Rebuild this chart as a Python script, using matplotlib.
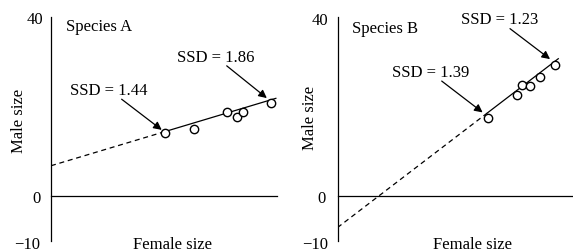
import matplotlib
matplotlib.use("Agg")
import matplotlib.pyplot as plt
import numpy as np

plt.rcParams['font.family'] = ['Liberation Serif', 'DejaVu Serif']
plt.rcParams['font.size'] = 12

# Data (arbitrary female-size units 0..40)
a_female = [20.2, 25.3, 31.1, 33.0, 33.9, 38.9]
a_male = [14.0, 15.1, 18.75, 17.7, 18.8, 20.7]
a_intercept, a_slope = 6.8, 0.378
a_solid_range = (20.2, 39.8)

b_female = [25.5, 30.5, 31.4, 32.7, 34.4, 37.0]
b_male = [17.4, 22.7, 24.8, 24.7, 26.6, 29.3]
b_intercept, b_slope = -7.0, 1.005
b_solid_range = (25.5, 37.5)

yticks = [-10, 0, 40]
titles = ["Species A", "Species B"]
a_labels = ["SSD = 1.44", "SSD = 1.86"]
b_labels = ["SSD = 1.39", "SSD = 1.23"]
a_label_pos = [(10.3, 23.7), (29.15, 31.0)]
a_arrows = [((12.5, 21.65), (19.6, 14.8)), ((31.1, 29.1), (38.2, 21.9))]
b_label_pos = [(15.8, 27.7), (27.5, 39.5)]
b_arrows = [((17.7, 25.7), (24.65, 18.7)), ((29.3, 37.4), (36.1, 30.6))]

W, H = 573, 253
fig = plt.figure(figsize=(W / 100, H / 100), dpi=100)


def px(x, y):
    return x / W, (H - y) / H


def make_axes(left_px, right_px):
    top_px, bot_px = 18, 242
    return fig.add_axes([left_px / W, (H - bot_px) / H,
                         (right_px - left_px) / W, (bot_px - top_px) / H])


axA = make_axes(51, 277)
axB = make_axes(337.5, 573)

layout = [
    dict(ax=axA, fx=a_female, my=a_male, b0=a_intercept, b1=a_slope,
         srange=a_solid_range, title=titles[0], labels=a_labels,
         lpos=a_label_pos, arrows=a_arrows,
         title_px=(66.5, 31.5), xlab_px=(172.5, 249), ylab_px=(19, 121),
         tick_right=[40.5, 40.7, 43.3], tick_base=[249, 203.3, 24.0]),
    dict(ax=axB, fx=b_female, my=b_male, b0=b_intercept, b1=b_slope,
         srange=b_solid_range, title=titles[1], labels=b_labels,
         lpos=b_label_pos, arrows=b_arrows,
         title_px=(351.7, 33.0), xlab_px=(472.5, 249), ylab_px=(310, 118),
         tick_right=[328.3, 325.7, 328.3], tick_base=[249, 203.3, 25.0]),
]

for L in layout:
    ax = L['ax']
    ax.set_xlim(0, 40)
    ax.set_ylim(-10, 40)
    for s in ['top', 'right']:
        ax.spines[s].set_visible(False)
    ax.spines['bottom'].set_position(('data', 0))
    ax.spines['left'].set_linewidth(0.9)
    ax.spines['bottom'].set_linewidth(0.9)
    ax.set_xticks([])
    ax.set_yticks([])
    ax.patch.set_alpha(0)

    b0, b1 = L['b0'], L['b1']
    xd = np.array([0, L['srange'][0]])
    ax.plot(xd, b0 + b1 * xd, color='black', lw=0.9, ls=(0, (4, 3)))
    xs = np.array(L['srange'])
    ax.plot(xs, b0 + b1 * xs, color='black', lw=0.9)
    ax.plot(L['fx'], L['my'], 'o', ms=6, mfc='white', mec='black', mew=1.0,
            zorder=5)

    fig.text(*px(*L['title_px']), L['title'], ha='left', va='baseline')

    for lab, (tx, ty), (st, en) in zip(L['labels'], L['lpos'], L['arrows']):
        ax.text(tx, ty, lab, ha='center', va='center')
        ax.annotate('', xy=en, xytext=st,
                    arrowprops=dict(arrowstyle='-|>', color='black', lw=0.9,
                                    mutation_scale=12, shrinkA=0, shrinkB=0))

    for t, rx, by in zip(yticks, L['tick_right'], L['tick_base']):
        fig.text(*px(rx, by), f"{t}".replace('-', '\u2212'),
                 ha='right', va='baseline')

    fig.text(*px(*L['xlab_px']), "Female size", ha='center', va='baseline')
    fig.text(*px(*L['ylab_px']), "Male size", ha='center', va='center',
             rotation=90)

fig.savefig("out.png", dpi=100)
